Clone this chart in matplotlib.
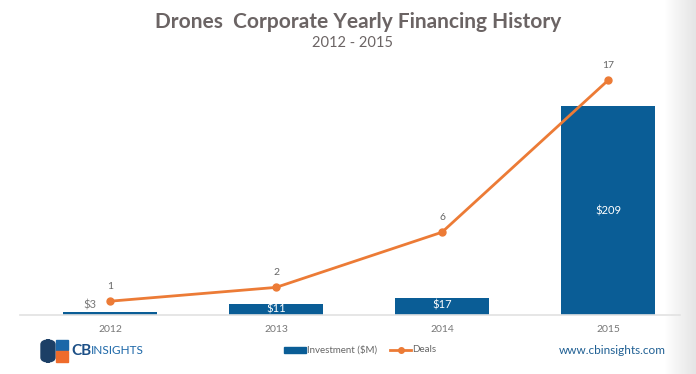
import matplotlib
matplotlib.use("Agg")
import matplotlib.pyplot as plt
import numpy as np
from matplotlib.patches import FancyBboxPatch, Rectangle
from matplotlib.lines import Line2D

years = ["2012", "2013", "2014", "2015"]
investment = [3, 11, 17, 209]
deals = [1, 2, 6, 17]
bar_labels = ["$3", "$11", "$17", "$209"]

BLUE = "#0a5d96"
ORANGE = "#ec7b36"
GREY = "#6b6464"

plt.rcParams['font.family'] = ['Lato', 'DejaVu Sans']

fig = plt.figure(figsize=(6.96, 3.74), dpi=100)
W, H = 696, 374

# soft grey shading at the right edge
grad = fig.add_axes([664 / W, 0, 32 / W, 1])
grad.imshow(np.linspace(1.0, 0.93, 64).reshape(1, -1) ** 1.5, cmap="gray", vmin=0, vmax=1,
            aspect="auto", extent=[0, 1, 0, 1], interpolation="bilinear")
grad.axis("off")

ax = fig.add_axes([20 / W, (H - 315) / H, 660 / W, 255 / H])
ax.patch.set_alpha(0)
x = np.arange(len(years))
ax.bar(x, investment, width=0.57, color=BLUE, zorder=2)
ax.set_xlim(-90 / 166, 570 / 166)
ax.set_ylim(0, 255)
for s in ["top", "right", "left"]:
    ax.spines[s].set_visible(False)
ax.spines["bottom"].set_color("#e2e2e2")
ax.spines["bottom"].set_linewidth(1.2)
ax.set_yticks([])
ax.set_xticks(x)
ax.set_xticklabels(years, fontsize=7.5, color="#777777")
ax.tick_params(axis="x", length=0, pad=7)

# bar value labels
ax.text(x[0] - 0.08, investment[0] + 7, bar_labels[0], ha="right", va="center",
        fontsize=8, color="#777777")
ax.text(x[1], investment[1] / 2, bar_labels[1], ha="center", va="center",
        fontsize=8, color="white", zorder=3)
ax.text(x[2], investment[2] / 2 + 1, bar_labels[2], ha="center", va="center",
        fontsize=8, color="white", zorder=3)
ax.text(x[3], investment[3] / 2, bar_labels[3], ha="center", va="center",
        fontsize=8, color="white", zorder=3)

ax2 = ax.twinx()
ax2.set_ylim(0, 255 / 13.8)
ax2.plot(x, deals, color=ORANGE, lw=2, marker="o", markersize=5, zorder=4)
for xi, d in zip(x, deals):
    ax2.text(xi, d + 0.75, str(d), ha="center", va="bottom", fontsize=7.5, color="#666666")
ax2.axis("off")

# titles
fig.text(358 / W, 1 - 22 / H, "Drones  Corporate Yearly Financing History", ha="center",
         va="center", fontsize=15, fontweight="bold", color=GREY)
fig.text(353 / W, 1 - 43 / H, "2012 - 2015", ha="center", va="center",
         fontsize=10.5, color=GREY)

# legend
leg_y = 1 - 350 / H
fig.patches.append(Rectangle((284 / W, leg_y - 3 / H), 22 / W, 6 / H,
                             transform=fig.transFigure, color=BLUE))
fig.text(307 / W, leg_y, "Investment ($M)", ha="left", va="center", fontsize=7, color="#666666")
fig.lines.append(Line2D([390 / W, 411 / W], [leg_y, leg_y], transform=fig.transFigure,
                        color=ORANGE, lw=2))
fig.lines.append(Line2D([400.5 / W], [leg_y], transform=fig.transFigure,
                        color=ORANGE, marker="o", markersize=4))
fig.text(412 / W, leg_y, "Deals", ha="left", va="center", fontsize=7, color="#666666")

# logo
fig.patches.append(FancyBboxPatch((41 / W, (H - 362) / H), 14 / W, 22 / H,
                                  boxstyle="round,pad=0,rounding_size=0.012",
                                  transform=fig.transFigure, color="#1c3f66"))
fig.patches.append(Rectangle((56 / W, (H - 350) / H), 12 / W, 10 / H,
                             transform=fig.transFigure, color="#1b67a8"))
fig.patches.append(Rectangle((56 / W, (H - 362) / H), 12 / W, 11 / H,
                             transform=fig.transFigure, color="#ef6b2b"))
fig.text(71 / W, 1 - 351 / H, "CB", ha="left", va="center", fontsize=11, fontweight="bold",
         color="#1c4f86")
fig.text(91 / W, 1 - 351 / H, "INSIGHTS", ha="left", va="center", fontsize=8.5,
         color="#1c67a8")
fig.text(666 / W, 1 - 350 / H, "www.cbinsights.com", ha="right", va="center",
         fontsize=8.5, color="#1f5f93")

fig.savefig("out.png", dpi=100)
